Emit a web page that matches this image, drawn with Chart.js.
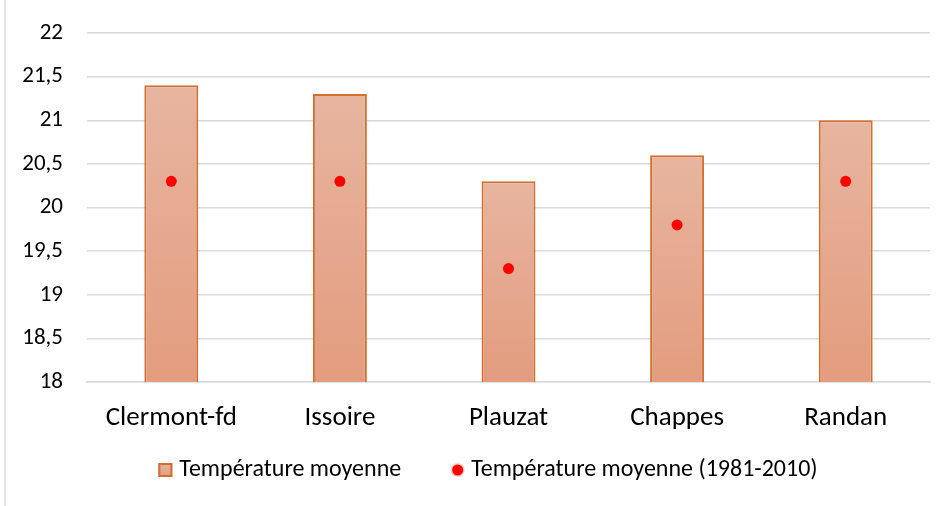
<!DOCTYPE html>
<html>
<head>
<meta charset="utf-8">
<script src="https://cdn.jsdelivr.net/npm/chart.js@4/dist/chart.umd.min.js"></script>
<style>
  html, body { margin: 0; padding: 0; background: #ffffff; }
  #wrap { width: 936px; height: 506px; position: relative; }
</style>
</head>
<body>
<div id="wrap"><canvas id="c" width="936" height="506"></canvas></div>
<script>
const categories = ['Clermont-fd', 'Issoire', 'Plauzat', 'Chappes', 'Randan'];
const tempMoyenne = [21.4, 21.3, 20.3, 20.6, 21.0];
const tempNormale = [20.3, 20.3, 19.3, 19.8, 20.3];
const yTickValues = [18, 18.5, 19, 19.5, 20, 20.5, 21, 21.5, 22];
const seriesNames = ['Température moyenne', 'Température moyenne (1981-2010)'];

const FONT = "Carlito, Calibri, Lato, sans-serif";
const BAR_TOP = '#E7B5A0';
const BAR_BOTTOM = '#E39C7E';
const BAR_BORDER = '#D2702F';

function barGradient(context) {
  const chart = context.chart;
  const ys = chart.scales && chart.scales.y;
  if (!chart.chartArea || !ys || context.dataIndex === undefined) return '#E5AA90';
  const v = context.dataset.data[context.dataIndex];
  const top = ys.getPixelForValue(v);
  const bottom = ys.getPixelForValue(ys.min);
  const g = chart.ctx.createLinearGradient(0, top, 0, bottom);
  g.addColorStop(0, BAR_TOP);
  g.addColorStop(1, BAR_BOTTOM);
  return g;
}

const frame = {
  id: 'frame',
  beforeDraw(chart) {
    const ctx = chart.ctx;
    ctx.save();
    ctx.fillStyle = '#ffffff';
    ctx.fillRect(0, 0, chart.width, chart.height);
    ctx.strokeStyle = '#D9D9D9';
    ctx.lineWidth = 1.5;
    ctx.beginPath();
    ctx.moveTo(5, 0);
    ctx.lineTo(5, chart.height);
    ctx.stroke();
    ctx.restore();
  },
  afterDraw(chart) {
    // legend (series names from the datasets)
    const ctx = chart.ctx;
    const names = [chart.data.datasets[1].label, chart.data.datasets[0].label];
    ctx.save();
    ctx.font = '24px ' + FONT;
    ctx.textBaseline = 'middle';
    ctx.fillStyle = '#000000';
    const w1 = ctx.measureText(names[0]).width;
    const w2 = ctx.measureText(names[1]).width;
    const total = 14 + 7 + w1 + 49 + 15 + 6 + w2;
    let x = 488 - total / 2;
    const y = 470;
    // square marker
    const g = ctx.createLinearGradient(0, y - 7, 0, y + 7);
    g.addColorStop(0, BAR_TOP);
    g.addColorStop(1, BAR_BOTTOM);
    ctx.fillStyle = g;
    ctx.fillRect(x, y - 7, 14, 14);
    ctx.strokeStyle = BAR_BORDER;
    ctx.lineWidth = 2;
    ctx.strokeRect(x + 1, y - 6, 12, 12);
    x += 14 + 7;
    ctx.fillStyle = '#000000';
    ctx.fillText(names[0], x, y);
    x += w1 + 49;
    // circle marker
    ctx.beginPath();
    ctx.arc(x + 7.5, y, 7, 0, Math.PI * 2);
    ctx.fillStyle = 'rgba(245,170,150,0.6)';
    ctx.fill();
    ctx.beginPath();
    ctx.arc(x + 7.5, y, 5.5, 0, Math.PI * 2);
    ctx.fillStyle = '#FF0000';
    ctx.fill();
    x += 15 + 6;
    ctx.fillStyle = '#000000';
    ctx.fillText(names[1], x, y);
    ctx.restore();
  }
};

new Chart(document.getElementById('c'), {
  data: {
    labels: categories,
    datasets: [
      {
        type: 'line',
        label: seriesNames[1],
        data: tempNormale,
        showLine: false,
        pointStyle: 'circle',
        pointRadius: 5.5,
        pointBackgroundColor: '#FF0000',
        pointBorderColor: '#FF0000',
        pointBorderWidth: 0,
        order: 0
      },
      {
        type: 'bar',
        label: seriesNames[0],
        data: tempMoyenne,
        backgroundColor: barGradient,
        borderColor: BAR_BORDER,
        borderWidth: 2,
        borderSkipped: 'start',
        barPercentage: 0.32,
        categoryPercentage: 1,
        order: 1
      }
    ]
  },
  options: {
    responsive: false,
    animation: false,
    devicePixelRatio: 1,
    layout: { padding: { left: 0, right: 6, top: 33, bottom: 74 } },
    plugins: {
      tooltip: { enabled: false },
      legend: { display: false }
    },
    scales: {
      x: {
        grid: { display: false, drawTicks: false },
        border: { display: true, color: '#D9D9D9', width: 1.5 },
        ticks: { font: { family: FONT, size: 27 }, color: '#000000', padding: 20, maxRotation: 0 },
        afterFit(scale) { scale.height = 50; }
      },
      y: {
        min: 18,
        max: 22,
        afterBuildTicks(scale) { scale.ticks = yTickValues.map(v => ({ value: v })); },
        grid: { color: '#D9D9D9', lineWidth: 1.5, drawTicks: false },
        border: { display: false },
        ticks: {
          font: { family: FONT, size: 23 },
          color: '#000000',
          padding: 24,
          callback: (v) => String(v).replace('.', ',')
        },
        afterFit(scale) {
          scale.width = 87;
          scale.paddingTop = 0;
          scale.paddingBottom = 0;
        }
      }
    }
  },
  plugins: [frame]
});
</script>
</body>
</html>
